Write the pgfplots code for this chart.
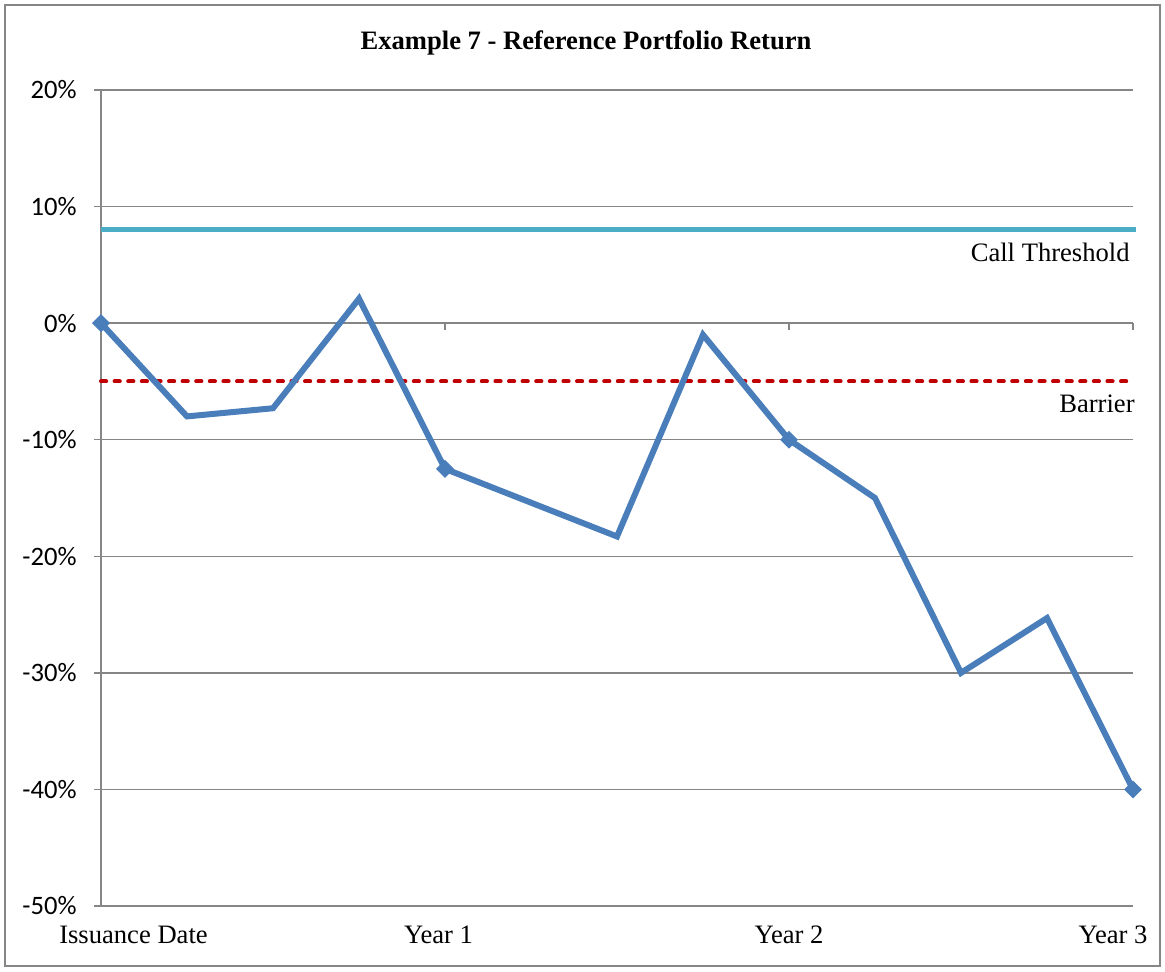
\documentclass[border=0pt]{standalone}
\usepackage{pgfplots}
\pgfplotsset{compat=1.18}
\usepackage{fontspec}
\setmainfont{Liberation Serif}
\newfontfamily\carlito{Carlito}
\definecolor{retblue}{RGB}{74,126,187}
\definecolor{callblue}{RGB}{75,172,198}
\definecolor{barred}{RGB}{192,0,0}
\definecolor{gridgray}{RGB}{134,134,134}
\begin{document}
\begin{tikzpicture}
\useasboundingbox (-50.5pt,-32.5pt) rectangle (532pt,453pt);
\draw[gridgray, line width=0.75pt] (-48pt,-30pt) rectangle (529.5pt,450.5pt);
\begin{axis}[
  at={(0pt,0pt)}, anchor=south west,
  scale only axis, width=516pt, height=408pt,
  xmin=0, xmax=12, ymin=-50, ymax=20,
  axis line style={draw=none},
  major tick length=0pt,
  xtick={0,4,8,12},
  xticklabels={{\hspace*{32.5pt}Issuance Date},{Year 1\hspace*{6.5pt}},{Year 2},{Year 3\hspace*{20pt}}},
  xticklabel style={anchor=base, inner sep=0pt, yshift=-18.5pt, font=\fontsize{13.3pt}{15pt}\selectfont},
  ytick={-50,-40,-30,-20,-10,0,10,20},
  yticklabels={-50\%,-40\%,-30\%,-20\%,-10\%,0\%,10\%,20\%},
  yticklabel style={anchor=east, inner sep=0pt, xshift=-12pt, font=\carlito\fontsize{13.3pt}{15pt}\selectfont},
  ymajorgrids,
  grid style={gridgray, line width=0.75pt},
  clip=false,
]
% axis decorations
\draw[gridgray, line width=0.75pt] (axis cs:0,-50) -- (axis cs:0,20);
\pgfplotsinvokeforeach{-50,-40,-30,-20,-10,0,10,20}{
  \draw[gridgray, line width=0.75pt] (axis cs:0,#1) -- ++(-3.5pt,0pt);
}
\pgfplotsinvokeforeach{4,8,12}{
  \draw[gridgray, line width=0.75pt] (axis cs:#1,0) -- ++(0pt,-3.5pt);
}
% call threshold
\addplot[callblue, line width=2.4pt, forget plot] coordinates {(0,8) (12.03,8)};
% barrier
\addplot[barred, line width=2pt, line cap=round, dash pattern=on 2.6pt off 4.2pt, forget plot] coordinates {(0,-5) (12,-5)};
% return
\addplot[retblue, line width=3pt, mark=square*, mark size=2.9pt, mark indices={1,5,9,13}, mark options={solid, rotate=45, fill=retblue, line width=0.5pt}] coordinates {
 (0,0) (1,-8.0) (2,-7.3) (3,2.1) (4,-12.5) (5,-15.4) (6,-18.3) (7,-1.0) (8,-10.0) (9,-15.0) (10,-30.0) (11,-25.3) (12,-40.0)
};
\end{axis}
\node[anchor=base, font=\bfseries\fontsize{13.3pt}{15pt}\selectfont] at (242.5pt,428pt) {Example 7 - Reference Portfolio Return};
\node[anchor=base east, inner sep=0pt, font=\fontsize{13.3pt}{15pt}\selectfont] at (514.5pt,322.5pt) {Call Threshold};
\node[anchor=base east, inner sep=0pt, font=\fontsize{13.3pt}{15pt}\selectfont] at (517pt,247pt) {Barrier};
\end{tikzpicture}
\end{document}
